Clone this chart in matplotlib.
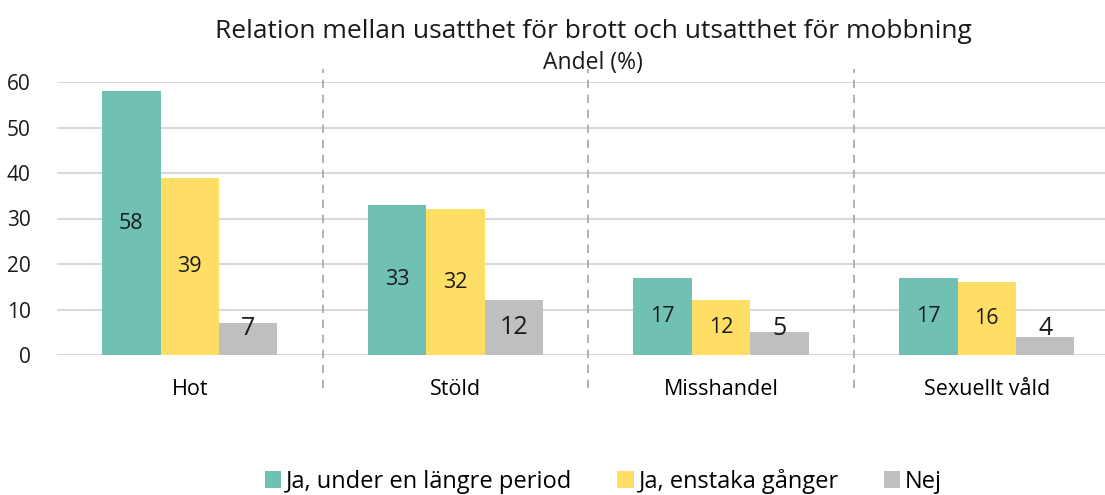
import matplotlib
matplotlib.use("Agg")
import matplotlib.pyplot as plt
import numpy as np

plt.rcParams['font.family'] = ['Open Sans', 'DejaVu Sans']

# data
categories = ["Hot", "Stöld", "Misshandel", "Sexuellt våld"]
series_names = ["Ja, under en längre period", "Ja, enstaka gånger", "Nej"]
long_period = [58, 33, 17, 17]
few_times = [39, 32, 12, 16]
no = [7, 12, 5, 4]
yticks = [0, 10, 20, 30, 40, 50, 60]

colors = ["#70C1B3", "#FFDE66", "#BFBFBF"]

fig = plt.figure(figsize=(11.05, 4.95), dpi=100)
ax = fig.add_axes([57 / 1105, 140 / 495, 1048 / 1105, 273 / 495])

x = np.arange(len(categories))
w = 0.22
all_series = [long_period, few_times, no]

for i, (vals, col, name) in enumerate(zip(all_series, colors, series_names)):
    pos = x + (i - 1) * w
    ax.bar(pos, vals, width=w, color=col, label=name, zorder=3)
    for p, v in zip(pos, vals):
        if i == 2:
            ax.text(p, max(v / 2, 5.9), str(v), ha='center', va='center',
                    fontsize=18, color='#1a1a1a', zorder=4)
        else:
            ax.text(p, v / 2, str(v), ha='center', va='center',
                    fontsize=15.5, color='#1a1a1a', zorder=4)

ax.set_xlim(-0.5, 3.445)
ax.set_ylim(0, 60)
ax.set_yticks(yticks)
ax.yaxis.grid(True, color='#D9D9D9', linewidth=1.5, zorder=0)
ax.set_axisbelow(True)
for s in ax.spines.values():
    s.set_visible(False)
ax.tick_params(axis='y', length=0, pad=19, labelsize=15)
ax.tick_params(axis='x', length=0, pad=17, labelsize=15.5)
ax.set_xticks(x)
ax.set_xticklabels(categories)
for lab in ax.get_yticklabels():
    lab.set_color('#1a1a1a')

# dashed separators between categories
for sep in x[:-1] + 0.5:
    ax.plot([sep, sep], [-7.3, 62.9], color='#A6A6A6', linewidth=1.2,
            linestyle=(0, (5, 4)), clip_on=False, zorder=1)

fig.text(0.537, 0.937, "Relation mellan usatthet för brott och utsatthet för mobbning",
         ha='center', va='center', fontsize=19, color='#1a1a1a')
fig.text(0.537, 0.872, "Andel (%)", ha='center', va='center', fontsize=16.5, color='#1a1a1a')

fig.legend(loc='center', bbox_to_anchor=(0.546, 0.028), ncol=3, frameon=False,
           fontsize=17, handlelength=0.7, handleheight=0.7, handletextpad=0.2,
           columnspacing=1.9)

fig.savefig("out.png", dpi=100)
